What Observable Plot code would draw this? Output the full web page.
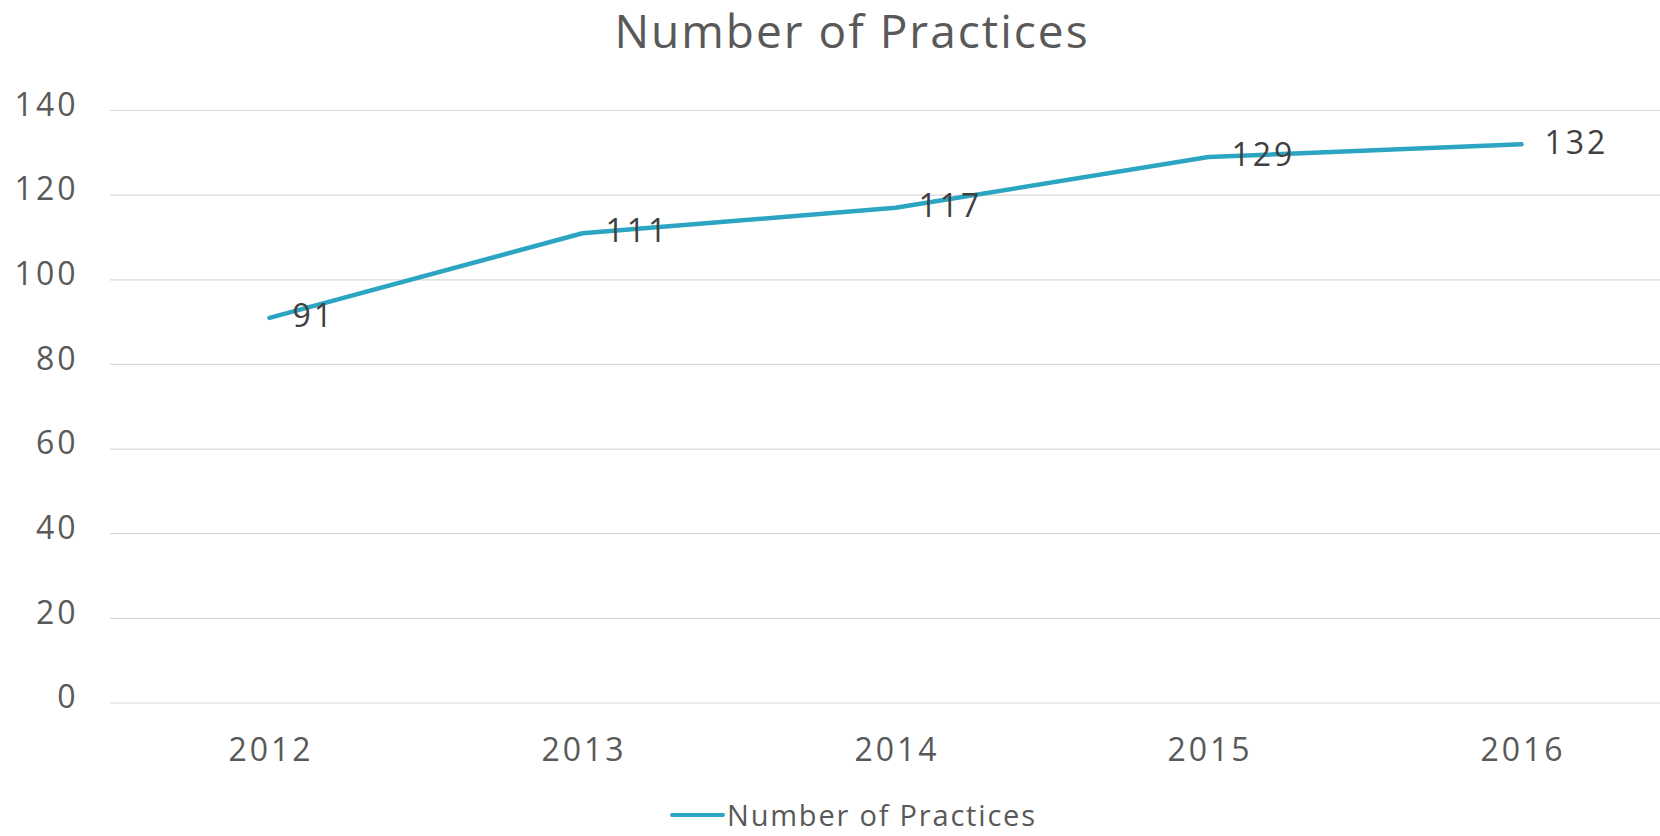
<!DOCTYPE html>
<html>
<head>
<meta charset="utf-8">
<script src="https://cdn.jsdelivr.net/npm/d3@7"></script>
<script src="https://cdn.jsdelivr.net/npm/@observablehq/plot@0.6"></script>
<style>
  html, body { margin: 0; padding: 0; background: #fff; overflow: hidden; }
  #wrap { position: relative; width: 1660px; height: 836px; font-family: "Open Sans", sans-serif; overflow: hidden; }
  #title { position: absolute; left: 0; top: 0; width: 1660px; padding-left: 44px; box-sizing: border-box; text-align: center; font-size: 46px; line-height: 60px; color: #595959; letter-spacing: 2px; }
  #chart { position: absolute; left: 0; top: 64px; }
  #chart svg text { letter-spacing: 3px; }
  #legend { position: absolute; left: 670px; top: 800px; height: 30px; display: flex; align-items: center; font-size: 29px; line-height: 30px; color: #595959; letter-spacing: 1.8px; }
  #legend .sw { width: 55px; height: 4px; background: #2CA5C2; border-radius: 2px; margin-right: 2px; }
</style>
</head>
<body>
<div id="wrap">
  <div id="title">Number of Practices</div>
  <div id="chart"></div>
  <div id="legend"><span class="sw"></span><span>Number of Practices</span></div>
</div>
<script>
const years = ["2012", "2013", "2014", "2015", "2016"];
const practices = [91, 111, 117, 129, 132];
const yTicks = [0, 20, 40, 60, 80, 100, 120, 140];
const seriesName = "Number of Practices";

const data = years.map((y, i) => ({year: y, value: practices[i], series: seriesName}));

const chart = Plot.plot({
  width: 1660,
  height: 720,
  marginLeft: 110,
  marginRight: 0,
  marginTop: 46,
  marginBottom: 81.5,
  style: {fontFamily: "Open Sans, sans-serif", color: "#595959", background: "transparent"},
  x: {type: "point", domain: years, range: [267, 1522], padding: 0, label: null},
  y: {domain: [0, 140], ticks: yTicks, label: null},
  marks: [
    Plot.ruleY(yTicks, {stroke: "#d9d9d9", strokeWidth: 1.2}),
    Plot.axisY({ticks: yTicks, tickSize: 0, tickPadding: 32, fontSize: 32, dy: -5, fill: "#595959", label: null}),
    Plot.axisX({tickSize: 0, tickPadding: 35, fontSize: 32, dx: 1.5, fill: "#595959", label: null}),
    Plot.line(data, {x: "year", y: "value", stroke: "#2CA5C2", strokeWidth: 4.5, strokeLinecap: "round", strokeLinejoin: "round"}),
    Plot.text(data, {x: "year", y: "value", text: d => String(d.value), textAnchor: "start", dx: 23, dy: -1, fontSize: 32, fill: "#404040"})
  ]
});
document.getElementById("chart").appendChild(chart);
</script>
</body>
</html>
